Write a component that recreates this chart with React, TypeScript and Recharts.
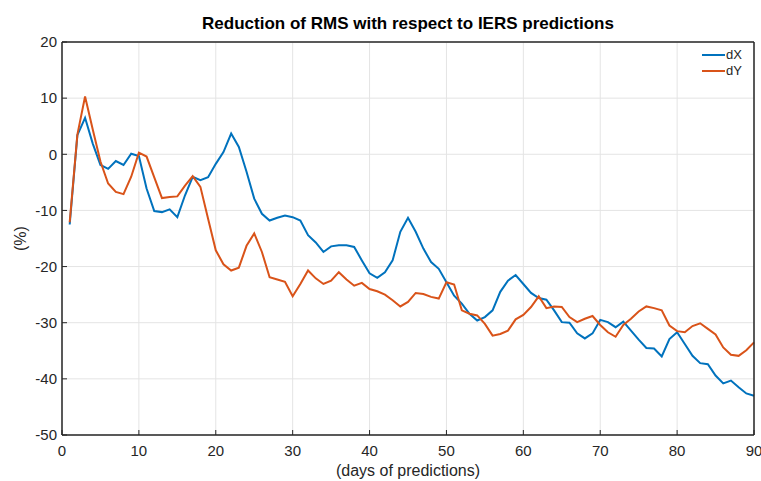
import { LineChart, Line, XAxis, YAxis, CartesianGrid, Legend, Label } from "recharts";

const days = [
  1, 2, 3, 4, 5, 6, 7, 8, 9, 10, 11, 12, 13, 14, 15, 16, 17, 18, 19, 20,
  21, 22, 23, 24, 25, 26, 27, 28, 29, 30, 31, 32, 33, 34, 35, 36, 37, 38, 39, 40,
  41, 42, 43, 44, 45, 46, 47, 48, 49, 50, 51, 52, 53, 54, 55, 56, 57, 58, 59, 60,
  61, 62, 63, 64, 65, 66, 67, 68, 69, 70, 71, 72, 73, 74, 75, 76, 77, 78, 79, 80,
  81, 82, 83, 84, 85, 86, 87, 88, 89, 90,
];

const dX = [
  -12.5, 3.4, 6.5, 1.9, -1.9, -2.6, -1.2, -1.9, 0.1, -0.3,
  -6.1, -10.1, -10.3, -9.8, -11.2, -7.3, -4.0, -4.6, -4.1, -1.7,
  0.4, 3.7, 1.3, -3.1, -7.9, -10.6, -11.8, -11.3, -10.9, -11.2,
  -11.8, -14.4, -15.7, -17.4, -16.4, -16.2, -16.2, -16.5, -18.9, -21.2,
  -22.0, -21.0, -18.9, -13.8, -11.3, -13.8, -16.8, -19.2, -20.4, -22.8,
  -25.2, -26.6, -28.4, -29.6, -29.0, -27.8, -24.5, -22.5, -21.5, -23.1,
  -24.7, -25.6, -25.9, -27.8, -29.9, -30.0, -31.9, -32.8, -31.9, -29.5,
  -29.9, -30.8, -29.8, -31.4, -33.0, -34.5, -34.6, -36.0, -32.9, -31.7,
  -33.8, -35.9, -37.2, -37.4, -39.4, -40.8, -40.3, -41.5, -42.6, -43.0,
];

const dY = [
  -12.1, 3.5, 10.3, 4.4, -1.3, -5.2, -6.7, -7.1, -4.0, 0.3,
  -0.4, -4.1, -7.8, -7.6, -7.5, -5.6, -3.9, -5.8, -11.5, -17.1,
  -19.6, -20.7, -20.2, -16.3, -14.1, -17.4, -21.9, -22.3, -22.7, -25.3,
  -23.1, -20.7, -22.1, -23.1, -22.5, -21.0, -22.3, -23.4, -22.9, -24.0,
  -24.4, -25.0, -26.0, -27.1, -26.3, -24.7, -24.9, -25.4, -25.7, -22.8,
  -23.2, -27.8, -28.4, -28.7, -30.2, -32.3, -32.0, -31.4, -29.4, -28.6,
  -27.2, -25.3, -27.4, -27.1, -27.2, -29.0, -29.9, -29.3, -28.8, -30.4,
  -31.7, -32.5, -30.4, -29.3, -28.0, -27.1, -27.4, -27.8, -30.5, -31.5,
  -31.7, -30.6, -30.1, -31.1, -32.1, -34.4, -35.7, -35.9, -34.9, -33.5,
];

const xTicks = [0, 10, 20, 30, 40, 50, 60, 70, 80, 90];
const yTicks = [-50, -40, -30, -20, -10, 0, 10, 20];

const data = days.map((day, i) => ({ day, dX: dX[i], dY: dY[i] }));

const FONT = "'Liberation Sans', Arial, Helvetica, sans-serif";
const AXIS = "#262626";
const tickStyle = { fontSize: 15, fill: AXIS, fontFamily: FONT };

function LegendBox() {
  const items = [
    { name: "dX", color: "#0072BD" },
    { name: "dY", color: "#D95319" },
  ];
  return (
    <div style={{ fontFamily: FONT, fontSize: 13, color: AXIS, lineHeight: "16px" }}>
      {items.map((it) => (
        <div key={it.name} style={{ display: "flex", alignItems: "center" }}>
          <svg width={23} height={4}>
            <line x1={0} y1={2} x2={23} y2={2} stroke={it.color} strokeWidth={2} />
          </svg>
          <span style={{ marginLeft: 1 }}>{it.name}</span>
        </div>
      ))}
    </div>
  );
}

export default function App() {
  return (
    <div style={{ position: "absolute", left: 0, top: 0, width: 761, height: 481, background: "#fff" }}>
      <div
        style={{
          position: "absolute",
          left: 62,
          width: 692,
          top: 14,
          textAlign: "center",
          fontFamily: FONT,
          fontWeight: "bold",
          fontSize: 17,
          color: "#000",
        }}
      >
        Reduction of RMS with respect to IERS predictions
      </div>
      <LineChart width={761} height={481} data={data} margin={{ top: 41, right: 6, left: 12, bottom: 0 }}>
        <CartesianGrid stroke="#e4e4e4" strokeWidth={1} />
        <XAxis
          dataKey="day"
          type="number"
          domain={[0, 90]}
          ticks={xTicks}
          interval={0}
          height={46}
          tick={tickStyle}
          tickSize={-5}
          tickMargin={15}
          stroke={AXIS}
          tickLine={{ stroke: AXIS }}
          axisLine={{ stroke: AXIS, strokeWidth: 1.5 }}
        >
          <Label value="(days of predictions)" position="insideBottom" offset={5} style={{ fontSize: 16, fill: AXIS, fontFamily: FONT }} />
        </XAxis>
        <XAxis
          xAxisId="top"
          orientation="top"
          dataKey="day"
          type="number"
          domain={[0, 90]}
          ticks={xTicks}
          interval={0}
          height={1}
          tick={false}
          tickSize={-5}
          stroke={AXIS}
          axisLine={{ stroke: AXIS, strokeWidth: 1.5 }}
        />
        <YAxis
          type="number"
          domain={[-50, 20]}
          ticks={yTicks}
          interval={0}
          width={50}
          tick={tickStyle}
          tickSize={-5}
          tickMargin={10}
          stroke={AXIS}
          axisLine={{ stroke: AXIS, strokeWidth: 1.5 }}
        >
          <Label
            content={({ viewBox }: any) => (
              <text
                x={20}
                y={viewBox.y + viewBox.height / 2}
                transform={`rotate(-90, 20, ${viewBox.y + viewBox.height / 2})`}
                textAnchor="middle"
                dominantBaseline="central"
                style={{ fontSize: 16, fill: AXIS, fontFamily: FONT }}
              >
                (%)
              </text>
            )}
          />
        </YAxis>
        <YAxis
          yAxisId="right"
          orientation="right"
          type="number"
          domain={[-50, 20]}
          ticks={yTicks}
          interval={0}
          width={1}
          tick={false}
          tickSize={-5}
          stroke={AXIS}
          axisLine={{ stroke: AXIS, strokeWidth: 1.5 }}
        />
        <Legend
          verticalAlign="middle"
          align="center"
          layout="vertical"
          content={<LegendBox />}
          wrapperStyle={{ top: 47, right: 19, left: "auto", bottom: "auto", width: "auto" }}
        />
        <Line type="linear" dataKey="dX" name="dX" stroke="#0072BD" strokeWidth={2} dot={false} isAnimationActive={false} />
        <Line type="linear" dataKey="dY" name="dY" stroke="#D95319" strokeWidth={2} dot={false} isAnimationActive={false} />
      </LineChart>
    </div>
  );
}
